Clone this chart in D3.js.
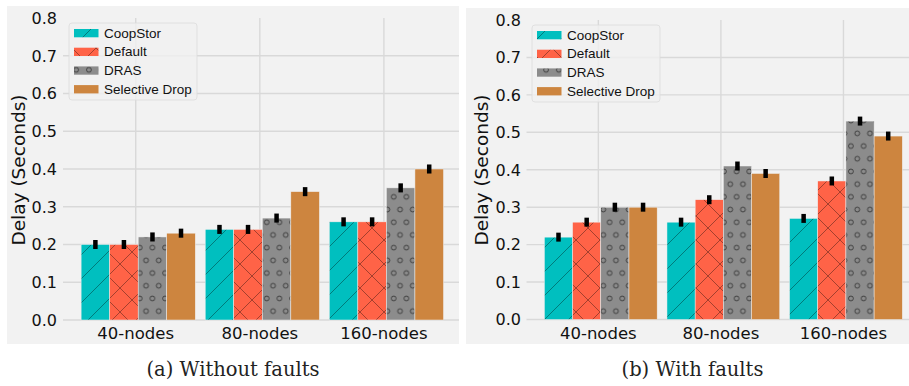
<!DOCTYPE html>
<html>
<head>
<meta charset="utf-8">
<script src="https://cdn.jsdelivr.net/npm/d3@7/dist/d3.min.js"></script>
<style>
  html, body { margin: 0; padding: 0; background: #ffffff; }
  svg { display: block; }
</style>
</head>
<body>
<svg id="chart" width="909" height="386"></svg>
<script>
// ---- data ----
const categories = ["40-nodes", "80-nodes", "160-nodes"];
const seriesNames = ["CoopStor", "Default", "DRAS", "Selective Drop"];
const yTicks = [0.0, 0.1, 0.2, 0.3, 0.4, 0.5, 0.6, 0.7, 0.8];

// (a) Without faults
const coopStorA = [0.20, 0.24, 0.26];
const defaultA  = [0.20, 0.24, 0.26];
const drasA     = [0.22, 0.27, 0.35];
const selDropA  = [0.23, 0.34, 0.40];
// (b) With faults
const coopStorB = [0.22, 0.26, 0.27];
const defaultB  = [0.26, 0.32, 0.37];
const drasB     = [0.30, 0.41, 0.53];
const selDropB  = [0.30, 0.39, 0.49];
// half-length of error bars
const errA = [0.012, 0.012, 0.012];
const errB = [0.012, 0.012, 0.012];

const captions = ["(a) Without faults", "(b) With faults"];

// ---- styles ----
const colors = ["#00bfbf", "#ff6347", "#8c8c8c", "#cd853f"];
const hatches = ["/", "x", "o", ""];

const svg = d3.select("#chart");
const defs = svg.append("defs");

// hatch patterns
const HS = 24;
const hatchStroke = "rgba(0,0,0,0.45)";
seriesNames.forEach((name, i) => {
  const h = hatches[i];
  if (!h) return;
  if (h === "o") {
    const w = 12.7, hh = 25.4;
    const p = defs.append("pattern").attr("id", "hatch" + i)
      .attr("patternUnits", "userSpaceOnUse").attr("width", w).attr("height", hh);
    p.append("rect").attr("width", w).attr("height", hh).attr("fill", colors[i]);
    const pts = [[w / 2, hh / 4], [0, hh * 3 / 4], [w, hh * 3 / 4]];
    pts.forEach(([cx, cy]) => {
      p.append("circle").attr("cx", cx).attr("cy", cy).attr("r", 2.4)
        .attr("fill", "none").attr("stroke", "rgba(0,0,0,0.6)").attr("stroke-width", 0.9);
    });
  } else {
    const p = defs.append("pattern").attr("id", "hatch" + i)
      .attr("patternUnits", "userSpaceOnUse").attr("width", HS).attr("height", HS);
    p.append("rect").attr("width", HS).attr("height", HS).attr("fill", colors[i]);
    const segs = [[0, HS, HS, 0], [-HS / 2, HS / 2, HS / 2, -HS / 2], [HS / 2, HS * 1.5, HS * 1.5, HS / 2]];
    if (h === "x") segs.push([0, 0, HS, HS], [-HS / 2, HS / 2, HS / 2, HS * 1.5], [HS / 2, -HS / 2, HS * 1.5, HS / 2]);
    segs.forEach(s => {
      p.append("line").attr("x1", s[0]).attr("y1", s[1]).attr("x2", s[2]).attr("y2", s[3])
        .attr("stroke", hatchStroke).attr("stroke-width", 0.8);
    });
  }
});
function fillFor(i) { return hatches[i] ? "url(#hatch" + i + ")" : colors[i]; }

const barOffsets = [-0.44, -0.21, 0.02, 0.25];  // left edge of each bar relative to group tick
const barWidth = 0.23;

const panels = [
  { series: [coopStorA, defaultA, drasA, selDropA], err: errA, caption: captions[0],
    bg: [7, 6, 459, 344], xr: [63.0, 461.6], yr: [320, 18],
    tickRight: 57, ylabX: 18, capX: 233, legend: [69, 23] },
  { series: [coopStorB, defaultB, drasB, selDropB], err: errB, caption: captions[1],
    bg: [466, 8, 909, 344], xr: [526.5, 920.2], yr: [319.5, 20],
    tickRight: 521, ylabX: 481, capX: 692.5, legend: [532, 25] }
];

panels.forEach((P, pi) => {
  const g = svg.append("g");
  const [bx0, by0, bx1, by1] = P.bg;
  defs.append("clipPath").attr("id", "clip" + pi)
    .append("rect").attr("x", bx0).attr("y", by0).attr("width", bx1 - bx0).attr("height", by1 - by0);
  g.append("rect").attr("x", bx0).attr("y", by0).attr("width", bx1 - bx0).attr("height", by1 - by0)
    .attr("fill", "#f2f2f2");

  const x = d3.scaleLinear().domain([-0.586, 2.626]).range(P.xr);
  const y = d3.scaleLinear().domain([0, 0.8]).range(P.yr);

  const inner = g.append("g").attr("clip-path", "url(#clip" + pi + ")");

  // gridlines
  inner.selectAll(".hgrid").data(yTicks.filter(t => t < 0.8)).enter().append("line")
    .attr("x1", P.xr[0]).attr("x2", P.xr[1])
    .attr("y1", d => y(d)).attr("y2", d => y(d))
    .attr("stroke", "#d9d9d9").attr("stroke-width", 1.4);
  inner.selectAll(".vgrid").data(categories).enter().append("line")
    .attr("x1", (d, i) => x(i)).attr("x2", (d, i) => x(i))
    .attr("y1", P.yr[1]).attr("y2", P.yr[0])
    .attr("stroke", "#d9d9d9").attr("stroke-width", 1.4);

  // bars
  P.series.forEach((vals, si) => {
    inner.selectAll(".bar" + si).data(vals).enter().append("rect")
      .attr("x", (d, ci) => x(ci + barOffsets[si]))
      .attr("width", x(barWidth) - x(0))
      .attr("y", d => y(d))
      .attr("height", d => y(0) - y(d))
      .attr("fill", fillFor(si))
      .attr("stroke", "#f0f0f0").attr("stroke-width", 0.5);
  });
  // error bars
  P.series.forEach((vals, si) => {
    inner.selectAll(".err" + si).data(vals).enter().append("line")
      .attr("x1", (d, ci) => x(ci + barOffsets[si] + barWidth / 2))
      .attr("x2", (d, ci) => x(ci + barOffsets[si] + barWidth / 2))
      .attr("y1", (d, ci) => y(d - P.err[ci]))
      .attr("y2", (d, ci) => y(d + P.err[ci]))
      .attr("stroke", "#000").attr("stroke-width", 4.5);
  });

  // y tick labels
  g.selectAll(".ytl").data(yTicks).enter().append("text")
    .attr("x", P.tickRight).attr("y", d => y(d) + 5.8)
    .attr("text-anchor", "end")
    .attr("font-family", "DejaVu Sans").attr("font-size", 16).attr("fill", "#111")
    .text(d => d.toFixed(1));
  // x tick labels
  g.selectAll(".xtl").data(categories).enter().append("text")
    .attr("x", (d, i) => x(i)).attr("y", 338.5)
    .attr("text-anchor", "middle")
    .attr("font-family", "DejaVu Sans").attr("font-size", 16.5).attr("fill", "#111")
    .text(d => d);
  // y label
  g.append("text")
    .attr("transform", `translate(${P.ylabX + 6.5},170) rotate(-90)`)
    .attr("text-anchor", "middle")
    .attr("font-family", "DejaVu Sans").attr("font-size", 18.5).attr("fill", "#111")
    .text("Delay (Seconds)");

  // legend
  const [lx, ly] = P.legend;
  const lg = g.append("g");
  lg.append("rect").attr("x", lx).attr("y", ly).attr("width", 128).attr("height", 77)
    .attr("rx", 3).attr("fill", "rgba(240,240,240,0.8)").attr("stroke", "#dcdcdc").attr("stroke-width", 0.8);
  seriesNames.forEach((name, si) => {
    const cy = ly + 10 + si * 18.7;
    lg.append("rect").attr("x", lx + 5).attr("y", cy - 4).attr("width", 24.5).attr("height", 8.3)
      .attr("fill", fillFor(si));
    lg.append("text").attr("x", lx + 35).attr("y", cy + 4.6)
      .attr("font-family", "Liberation Sans, Arial, sans-serif").attr("font-size", 13.5).attr("fill", "#111")
      .text(name);
  });

  // caption
  svg.append("text").attr("x", P.capX).attr("y", 376)
    .attr("text-anchor", "middle")
    .attr("font-family", "DejaVu Serif").attr("font-size", 19.5).attr("fill", "#222")
    .text(P.caption);
});
</script>
</body>
</html>
